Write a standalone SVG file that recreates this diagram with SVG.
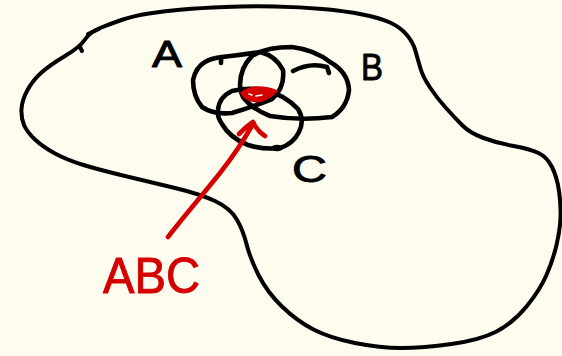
<svg xmlns="http://www.w3.org/2000/svg" width="562" height="356" viewBox="0 0 562 356">
  <style>
    .ink { fill: none; stroke: #000; stroke-width: 4; stroke-linecap: round; stroke-linejoin: round; }
    .set { fill: none; stroke: #000; stroke-width: 4.6; stroke-linecap: round; stroke-linejoin: round; }
    .red { fill: none; stroke: #d40000; stroke-width: 4.6; stroke-linecap: round; stroke-linejoin: round; }
    .lbl { font-family: "Liberation Sans", Arial, sans-serif; font-size: 36px; fill: #000; stroke: #000; stroke-width: 0.9; stroke-linejoin: round; }
    .rlbl { font-family: "Liberation Sans", Arial, sans-serif; font-size: 50px; fill: #d40000; stroke: #d40000; stroke-width: 0.9; stroke-linejoin: round; }
  </style>
  <rect width="562" height="356" fill="#fdfcee"/>

  <!-- universe: free-hand outline -->
  <g id="universe">
    <path class="ink" d="M100,28 Q110,24 121.5,20 Q133,16 149,13.5 Q165,11 182.5,9.5 Q200,8 225,7 Q250,6 275,6.5 Q300,7 322.5,9 Q345,11 362.5,14.5 Q380,18 390,22.5 Q400,27 406.5,34.5 Q413,42 415.5,51 Q418,60 420.5,68.5 Q423,77 430,87.5 Q437,98 446,108 Q455,118 462.5,125.5 Q470,133 483.5,138 Q497,143 513.5,146 Q530,149 538.5,153 Q547,157 552,167 Q557,177 559,191 Q561,205 560.5,217.5 Q560,230 556.5,245 Q553,260 546.5,275 Q540,290 526.5,306.5 Q513,323 496.5,331.5 Q480,340 451.5,344 Q423,348 401.5,348 Q380,348 355,343 Q330,338 313.5,329.5 Q297,321 282,306.5 Q267,292 258.5,275 Q250,258 246.5,244 Q243,230 236.5,219 Q230,208 215,201 Q200,194 175,188 Q150,182 125,176 Q100,170 83.5,165 Q67,160 55,153.5 Q43,147 35,139.5 Q27,132 24,125 Q21,118 21.5,109 Q22,100 27.5,90 Q33,80 41.5,72.5 Q50,65 65,56 Q80,47 85,39.5 Q90,32 100,28 Z"/>
    <path class="ink" d="M88,34 L99,29 M80,47 L82,51"/>
  </g>

  <!-- set A -->
  <g id="set-A">
    <path class="set" d="M205,62 Q212,58 222,57 Q240,55 260,52 Q276,56 283,70 Q285,88 272,99 Q252,107 232,113 Q214,115 202,107 Q193,96 193,80 Q196,67 205,62 Z"/>
    <path class="set" d="M221,57 L221,63"/>
    <text class="lbl" x="152" y="67" textLength="30" lengthAdjust="spacingAndGlyphs">A</text>
  </g>

  <!-- set B -->
  <g id="set-B">
    <path class="set" d="M240,85 Q240,68 252,56 Q266,47 292,47 Q315,50 330,62 Q348,72 349,90 Q347,108 332,117 Q300,121 270,116 Q252,109 243,97 Q240,91 240,85 Z"/>
    <path class="set" d="M293,71 Q310,62 327,67 L329,73"/>
    <text class="lbl" x="361" y="80" textLength="22" lengthAdjust="spacingAndGlyphs">B</text>
  </g>

  <!-- set C -->
  <g id="set-C">
    <path class="set" d="M218,110 Q219,97 232,91 Q248,87 265,90 Q285,95 298,109 Q305,120 299,132 Q293,144 280,148 Q264,150 248,145 Q230,138 222,124 Q217,117 218,110 Z"/>
    <ellipse cx="277" cy="148" rx="6" ry="3.2" fill="#000"/>
    <text class="lbl" x="292" y="182" textLength="35" lengthAdjust="spacingAndGlyphs">C</text>
  </g>

  <!-- triple intersection A∩B∩C -->
  <g id="abc">
    <path d="M241,93 Q247,88 257,87 Q269,87 277,91 Q272,97 262,101 Q252,103 245,98 Z" fill="#d40000" stroke="#d40000" stroke-width="1.5" stroke-linejoin="round"/>
    <path d="M249,94 L252,95 M256,96 L262,95" stroke="#fdfcee" stroke-width="1.6" stroke-linecap="round" fill="none"/>
    <text class="rlbl" x="103" y="293" textLength="97" lengthAdjust="spacingAndGlyphs">ABC</text>
  </g>

  <!-- pointer from label to the intersection -->
  <g id="connectors">
    <path class="red" d="M168,237 C185,215 205,192 220,173 S245,138 253,124"/>
    <path class="red" d="M239,134 Q247,126 253,122 Q257,131 265,136"/>
  </g>
</svg>
